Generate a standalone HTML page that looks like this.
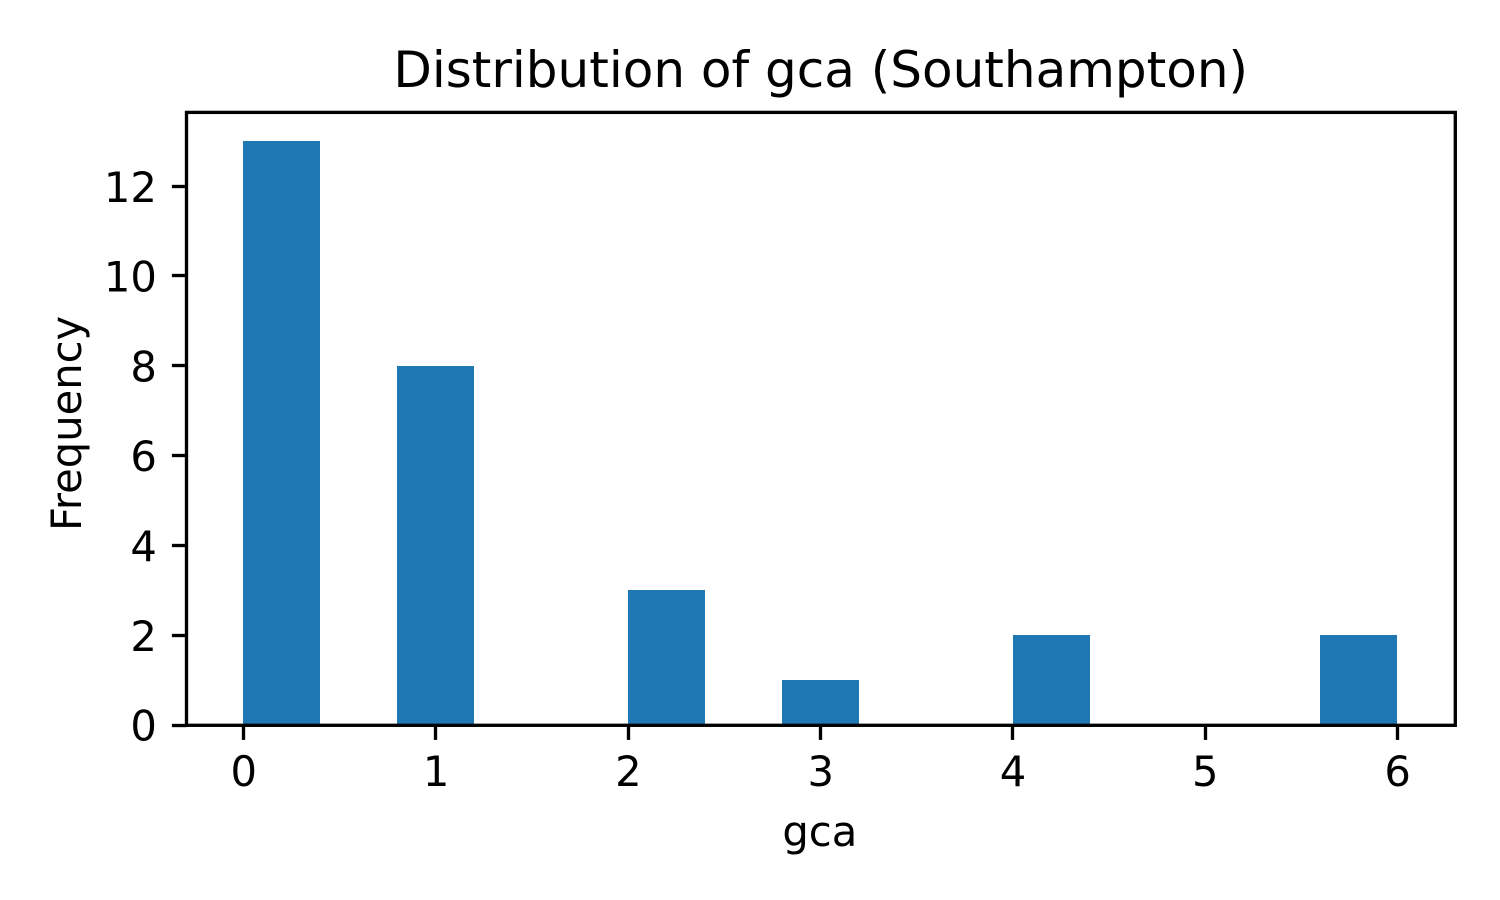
<!DOCTYPE html>
<html>
<head>
<meta charset="utf-8">
<style>
html,body{margin:0;padding:0;background:#fff;width:1500px;height:900px;overflow:hidden}
svg{display:block}
text{font-family:"DejaVu Sans",sans-serif;fill:#000}
</style>
</head>
<body>
<svg id="chart" xmlns="http://www.w3.org/2000/svg" width="1500" height="900" viewBox="0 0 1500 900"></svg>
<script>
const binStarts = [0, 0.4, 0.8, 1.2, 1.6, 2.0, 2.4, 2.8, 3.2, 3.6, 4.0, 4.4, 4.8, 5.2, 5.6];
const binWidth = 0.4;
const frequencies = [13, 0, 8, 0, 0, 3, 0, 1, 0, 0, 2, 0, 0, 0, 2];
const xTickLabels = [0, 1, 2, 3, 4, 5, 6];
const yTickLabels = [0, 2, 4, 6, 8, 10, 12];
const titleText = 'Distribution of gca (Southampton)';
const xLabelText = 'gca';
const yLabelText = 'Frequency';

const plot = {left: 185.8, right: 1455, top: 112.1, bottom: 725};
const frameBox = {left: 186.5, right: 1455.3, top: 112.4, bottom: 725.3};
const xDomain = [-0.3, 6.3];
const yDomain = [0, 13.65];
const xScale = v => plot.left + (v - xDomain[0]) / (xDomain[1] - xDomain[0]) * (plot.right - plot.left);
const yScale = v => plot.bottom - (v - yDomain[0]) / (yDomain[1] - yDomain[0]) * (plot.bottom - plot.top);
const snapEdge = p => Math.round(p);
const snapLine = p => Math.floor(p) + 0.5;

const svg = document.getElementById('chart');
const NS = 'http://www.w3.org/2000/svg';
function make(tag, attrs, text) {
  const el = document.createElementNS(NS, tag);
  for (const k in attrs) el.setAttribute(k, attrs[k]);
  if (text !== undefined) el.textContent = text;
  svg.appendChild(el);
  return el;
}

binStarts.forEach((start, i) => {
  if (!frequencies[i]) return;
  const x0 = snapEdge(xScale(start)), x1 = snapEdge(xScale(start + binWidth)), y1 = snapEdge(yScale(frequencies[i]));
  const bar = make('rect', {x: x0, y: y1, width: x1 - x0, height: snapEdge(plot.bottom) - y1, fill: '#1f77b4'});
  
  
});

xTickLabels.forEach(v => {
  const x = snapLine(xScale(v));
  const tick = make('line', {x1: x, x2: x, y1: frameBox.bottom, y2: frameBox.bottom + 14.6, stroke: '#000', 'stroke-width': 3.33});
  
  
  const label = make('text', {x: xScale(v) + 0.3, y: 786, 'text-anchor': 'middle', 'font-size': 41.67}, v);
  
  
});

yTickLabels.forEach(v => {
  const y = snapLine(yScale(v));
  const tick = make('line', {x1: frameBox.left, x2: frameBox.left - 14.6, y1: y, y2: y, stroke: '#000', 'stroke-width': 3.33});
  
  
  const label = make('text', {x: 156.9, y: yScale(v) + 15.6, 'text-anchor': 'end', 'font-size': 41.67}, v);
  
  
});

const frame = make('rect', {x: frameBox.left, y: frameBox.top, width: frameBox.right - frameBox.left, height: frameBox.bottom - frameBox.top, fill: 'none', stroke: '#000', 'stroke-width': 3.33, 'stroke-linejoin': 'miter'});



const title = make('text', {x: 820.7, y: 87, 'text-anchor': 'middle', 'font-size': 50}, titleText);



const xLabel = make('text', {x: 819.8, y: 846, 'text-anchor': 'middle', 'font-size': 41.67}, xLabelText);



const yLabel = make('text', {x: 0, y: 0, transform: 'translate(81 423.4) rotate(-90)', 'text-anchor': 'middle', 'font-size': 41.67}, yLabelText);


</script>
</body>
</html>
